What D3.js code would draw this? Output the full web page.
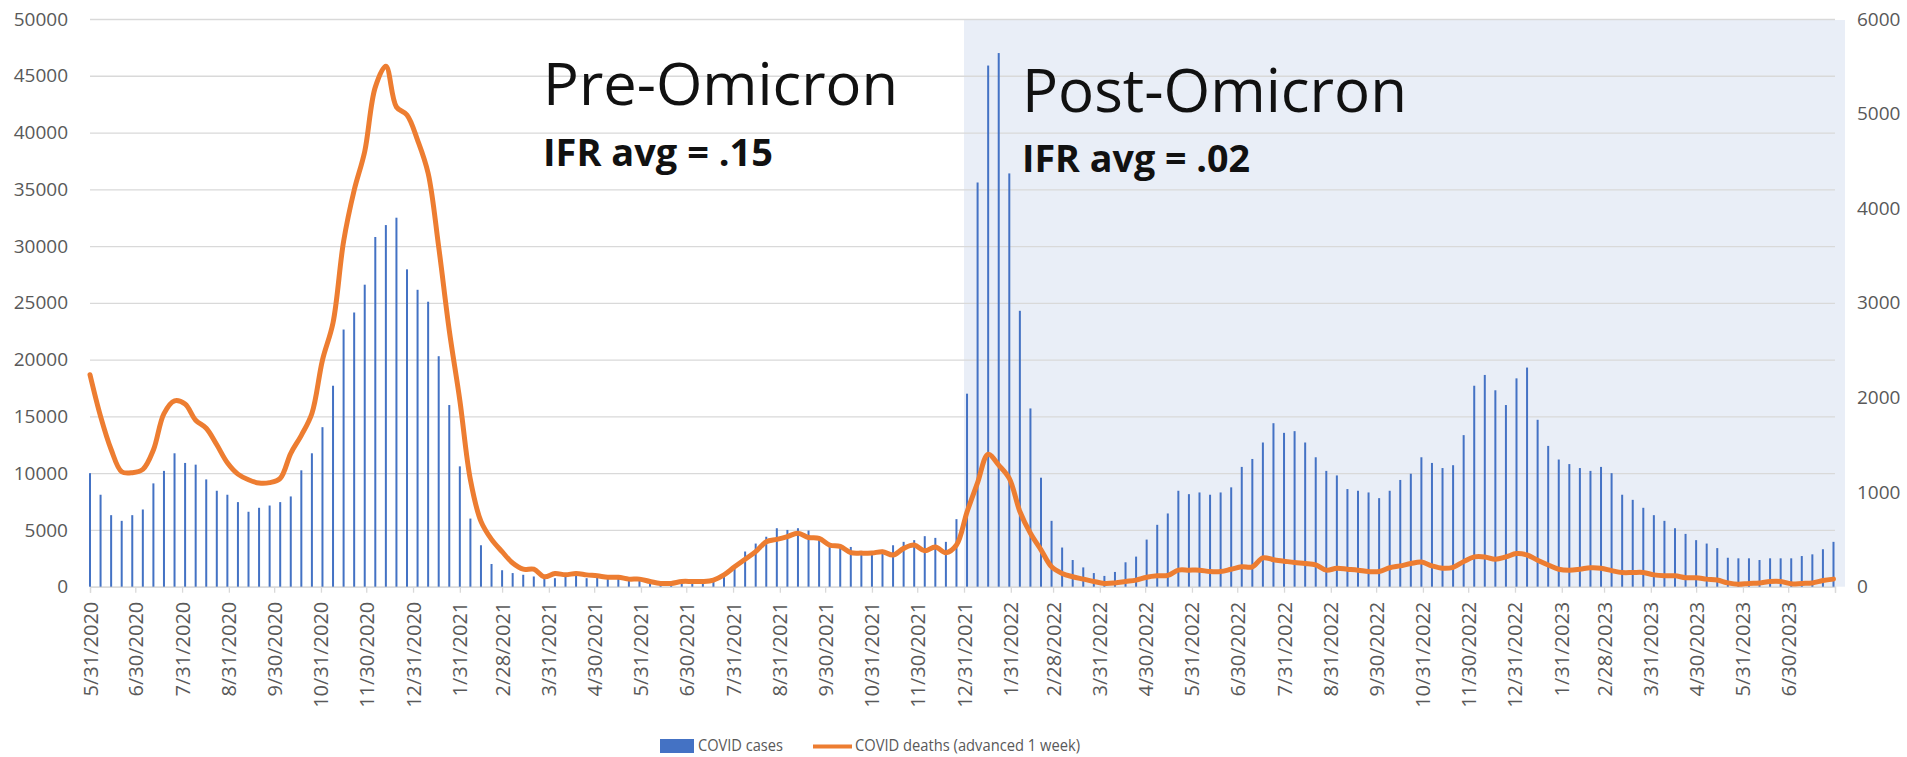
<!DOCTYPE html>
<html>
<head>
<meta charset="utf-8">
<script src="https://cdn.jsdelivr.net/npm/d3@7"></script>
<style>
  body { margin: 0; background: #fff; }
  svg { display: block; }
  text { font-family: "Open Sans", "Noto Sans", sans-serif; }
</style>
</head>
<body>
<svg width="1907" height="757"></svg>
<script>
// weekly data, first week 5/31/2020
var firstWeek = "2020-05-31";

var cases = [
  10000, 8100, 6300, 5800, 6300, 6800, 9100, 10200, 11750, 10900,
  10750, 9450, 8450, 8100, 7450, 6600, 6950, 7150, 7450, 7950,
  10250, 11750, 14050, 17700, 22650, 24150, 26600, 30800, 31850, 32500,
  27950, 26150, 25100, 20300, 16000, 10600, 6000, 3650, 2000, 1450,
  1200, 1050, 900, 750, 750, 900, 1050, 750, 1050, 750,
  700, 600, 600, 450, 300, 300, 450, 450, 600, 750,
  1050, 1600, 3100, 3800, 4400, 5150, 5000, 5150, 4950, 4100,
  3500, 3400, 3500, 2950, 3100, 3250, 3650, 3950, 4100, 4450,
  4300, 3950, 5950, 17000, 35600, 45900, 47000, 36400, 24300, 15700,
  9600, 5800, 3450, 2350, 1700, 1200, 950, 1300, 2150, 2650,
  4150, 5450, 6450, 8450, 8150, 8300, 8100, 8300, 8750, 10550,
  11250, 12700, 14400, 13550, 13700, 12700, 11400, 10200, 9800, 8600,
  8450, 8300, 7800, 8450, 9400, 9950, 11400, 10900, 10450, 10700,
  13350, 17700, 18650, 17300, 16000, 18350, 19300, 14700, 12400, 11200,
  10800, 10450, 10200, 10550, 10000, 8100, 7650, 6950, 6300, 5800,
  5150, 4650, 4100, 3800, 3400, 2550, 2500, 2500, 2350, 2500,
  2500, 2500, 2700, 2850, 3300, 3950
];

var deaths = [
  2240, 1800, 1450, 1215, 1205, 1240, 1445, 1830, 1965, 1930,
  1760, 1675, 1500, 1310, 1190, 1130, 1095, 1100, 1145, 1410,
  1600, 1830, 2395, 2790, 3650, 4190, 4600, 5280, 5500, 5070,
  4985, 4720, 4370, 3590, 2710, 1970, 1130, 690, 500, 370,
  250, 185, 185, 105, 140, 125, 140, 125, 115, 100,
  100, 80, 80, 55, 35, 35, 55, 55, 55, 70,
  125, 210, 290, 370, 475, 500, 530, 565, 520, 510,
  440, 425, 360, 355, 355, 370, 335, 405, 440, 380,
  420, 360, 440, 790, 1100, 1400, 1285, 1145, 795, 565,
  390, 210, 140, 105, 80, 55, 35, 40, 55, 70,
  100, 115, 120, 175, 175, 175, 160, 160, 185, 210,
  210, 305, 285, 270, 255, 245, 230, 175, 195, 185,
  175, 160, 160, 200, 220, 245, 260, 220, 195, 205,
  265, 315, 315, 290, 315, 350, 335, 280, 230, 185,
  175, 185, 200, 195, 170, 150, 150, 150, 125, 115,
  115, 95, 95, 80, 70, 40, 25, 35, 40, 55,
  55, 30, 35, 40, 65, 80
];

var casesTicks = [0, 5000, 10000, 15000, 20000, 25000, 30000, 35000, 40000, 45000, 50000];
var deathsTicks = [0, 1000, 2000, 3000, 4000, 5000, 6000];

var periods = [
  { label: "Pre-Omicron", ifr: "IFR avg = .15" },
  { label: "Post-Omicron", ifr: "IFR avg = .02" }
];
var omicronStart = "2021-12-31";
var axisStart = "2020-05-31", axisEnd = "2023-07-31";

var seriesNames = ["COVID cases", "COVID deaths (advanced 1 week)"];

var parse = d3.timeParse("%Y-%m-%d");
var start = parse(firstWeek);
var data = cases.map(function(c, i) {
    return { date: d3.timeDay.offset(start, 7 * i), cases: c, deaths: deaths[i] };
});

var svg = d3.select("svg");
// note: "top" is a reserved window property, so plot edges get their own names
var plotLeft = 90, plotRight = 1835, plotTop = 19, plotBottom = 586.7;

var x = d3.scaleTime().domain([parse(axisStart), parse(axisEnd)]).range([plotLeft, plotRight]);
var y = d3.scaleLinear().domain([0, 50000]).range([plotBottom, plotTop]);
var y2 = d3.scaleLinear().domain([0, 6000]).range([plotBottom, plotTop]);

svg.append("rect").attr("width", 1907).attr("height", 757).attr("fill", "#fff");

// shaded post-omicron area
svg.append("rect")
   .attr("x", x(parse(omicronStart)))
   .attr("y", plotTop + 1)
   .attr("width", x(parse(axisEnd)) + 10 - x(parse(omicronStart)))
   .attr("height", plotBottom - plotTop - 1)
   .attr("fill", "#e9eef7");

// gridlines
svg.append("g")
   .attr("transform", "translate(" + plotLeft + ",0)")
   .call(d3.axisLeft(y).tickValues(casesTicks).tickSize(-(plotRight - plotLeft)).tickFormat(""))
   .call(function(g) { g.select(".domain").remove(); })
   .selectAll("line").attr("stroke", "#d9d9d9").attr("stroke-width", 1.3);

// left axis labels
var yAxis = svg.append("g")
   .attr("transform", "translate(" + plotLeft + ",0)")
   .call(d3.axisLeft(y).tickValues(casesTicks).tickSize(0).tickPadding(22).tickFormat(d3.format("d")));
yAxis.select(".domain").remove();
yAxis.selectAll("text").attr("fill", "#595959").style("font-size", "19px");

// right axis labels
var y2Axis = svg.append("g")
   .attr("transform", "translate(" + plotRight + ",0)")
   .call(d3.axisRight(y2).tickValues(deathsTicks).tickSize(0).tickPadding(22).tickFormat(d3.format("d")));
y2Axis.select(".domain").remove();
y2Axis.selectAll("text").attr("fill", "#595959").style("font-size", "19px");

// x axis: month ends
var monthEnds = d3.timeMonth.range(parse("2020-06-01"), parse("2023-08-02"))
    .map(function(d) { return d3.timeDay.offset(d, -1); });
var fmt = d3.timeFormat("%-m/%-d/%Y");
var xAxis = svg.append("g")
   .attr("transform", "translate(0," + plotBottom + ")")
   .call(d3.axisBottom(x).tickValues(monthEnds).tickSize(6).tickPadding(0)
        .tickFormat(function(d, i) { return i < monthEnds.length - 1 ? fmt(d) : ""; }));
xAxis.select(".domain").attr("stroke", "#d9d9d9").attr("stroke-width", 1.3);
xAxis.selectAll(".tick line").attr("stroke", "#d9d9d9").attr("stroke-width", 1.3);
xAxis.selectAll("text")
     .attr("fill", "#595959")
     .style("font-size", "20px")
     .attr("text-anchor", "end")
     .attr("transform", "rotate(-90)")
     .attr("x", -15)
     .attr("y", 0)
     .attr("dy", "0.35em");

// bars
svg.append("g").selectAll("rect")
   .data(data)
   .enter().append("rect")
   .attr("x", function(d) { return x(d.date) - 1; })
   .attr("y", function(d) { return y(d.cases); })
   .attr("width", 2)
   .attr("height", function(d) { return y(0) - y(d.cases); })
   .attr("fill", "#4472c4");

// deaths line
var line = d3.line()
    .x(function(d) { return x(d.date); })
    .y(function(d) { return y2(d.deaths); })
    .curve(d3.curveCatmullRom);

svg.append("path")
   .datum(data)
   .attr("d", line)
   .attr("fill", "none")
   .attr("stroke", "#ed7d31")
   .attr("stroke-width", 5)
   .attr("stroke-linejoin", "round")
   .attr("stroke-linecap", "round");

// period annotations
var ann = [
    { x: 543, y1: 105, y2: 166, size: 59, w: 355, w2: 230 },
    { x: 1022, y1: 111.7, y2: 171.7, size: 60, w: 385, w2: 228 }
];
periods.forEach(function(p, i) {
    var a = ann[i];
    svg.append("text")
       .attr("x", a.x).attr("y", a.y1)
       .attr("fill", "#111")
       .style("font-size", a.size + "px")
       .attr("textLength", a.w).attr("lengthAdjust", "spacingAndGlyphs")
       .text(p.label);
    svg.append("text")
       .attr("x", a.x).attr("y", a.y2)
       .attr("fill", "#111")
       .style("font-size", "37px")
       .style("font-weight", "bold")
       .attr("textLength", a.w2).attr("lengthAdjust", "spacingAndGlyphs")
       .text(p.ifr);
});

// legend (kept a touch above the bottom edge so descenders fit)
var legend = svg.append("g");
legend.append("rect")
      .attr("x", 660).attr("y", 739).attr("width", 34).attr("height", 14)
      .attr("fill", "#4472c4");
legend.append("text")
      .attr("x", 698).attr("y", 751)
      .attr("fill", "#595959").style("font-size", "16px")
      .attr("textLength", 85).attr("lengthAdjust", "spacingAndGlyphs")
      .text(seriesNames[0]);
legend.append("line")
      .attr("x1", 813).attr("x2", 852).attr("y1", 746.5).attr("y2", 746.5)
      .attr("stroke", "#ed7d31").attr("stroke-width", 4);
legend.append("text")
      .attr("x", 855).attr("y", 751)
      .attr("fill", "#595959").style("font-size", "16px")
      .attr("textLength", 225).attr("lengthAdjust", "spacingAndGlyphs")
      .text(seriesNames[1]);
</script>
</body>
</html>
